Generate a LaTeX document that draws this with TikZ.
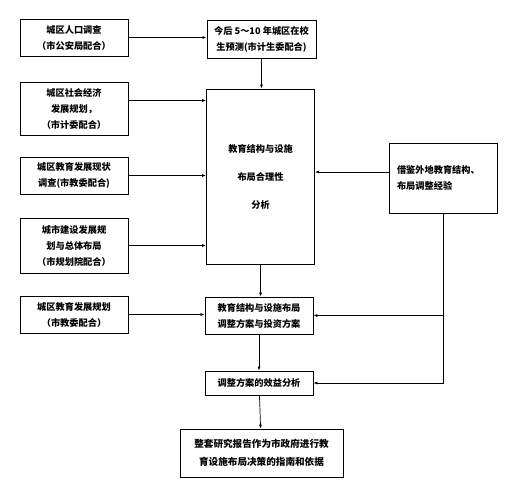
\documentclass[tikz,border=0pt]{standalone}
\usepackage{fontspec}
\setmainfont{Noto Sans CJK SC}
\usepackage{tikz}
\usetikzlibrary{arrows.meta, positioning, calc}

\begin{document}
\begin{tikzpicture}[
    x=1pt, y=-1pt,
    infoBox/.style={
        draw, line width=0.8pt, minimum width=108pt, align=center,
        inner sep=2pt, font=\fontsize{9.2}{16}\selectfont\bfseries
    },
    flowArrow/.style={draw, line width=0.7pt, -{Latex[length=4pt,width=3pt]}},
]
    \useasboundingbox (0,0) rectangle (515,499);

    % input boxes on the left
    \node[infoBox, minimum height=37pt] (popSurvey) at (74,37.5)
        {城区人口调查\\（市公安局配合）};
    \node[infoBox, minimum height=53pt] (econPlan) at (74,108.5)
        {城区社会经济\\发展规划，\\（市计委配合）};
    \node[infoBox, minimum height=37pt] (eduStatus) at (74,175.5)
        {城区教育发展现状\\调查(市教委配合)};
    \node[infoBox, minimum height=55pt] (cityPlan) at (74,245.5)
        {城市建设发展规\\划与总体布局\\（市规划院配合）};
    \node[infoBox, minimum height=37pt] (eduPlan) at (74,314.5)
        {城区教育发展规划\\（市教委配合）};

    % main column
    \node[infoBox, minimum width=109pt, minimum height=38pt] (forecast) at (261.5,39)
        {今后 5～10 年城区在校\\生预测(市计生委配合)};
    \node[infoBox, minimum height=175pt,
          font=\fontsize{9.2}{28}\selectfont\bfseries] (analysis) at (260.5,176.5)
        {教育结构与设施\\布局合理性\\分析};
    \node[infoBox, minimum height=37pt] (adjPlan) at (259,315.5)
        {教育结构与设施布局\\调整方案与投资方案};
    \node[infoBox, minimum height=24pt] (benefit) at (259,383)
        {调整方案的效益分析};
    \node[infoBox, minimum width=163pt, minimum height=48pt,
          font=\fontsize{9.6}{18}\selectfont\bfseries] (report) at (261.5,453)
        {整套研究报告作为市政府进行教\\育设施布局决策的指南和依据};

    % experience box on the right
    \node[infoBox, minimum height=70pt, align=left, text width=92pt] (experience) at (443,178)
        {借鉴外地教育结构、\\布局调整经验};

    % connectors
    \draw[flowArrow] (popSurvey.east) -- (popSurvey.east -| forecast.west);
    \draw[flowArrow] ([yshift=8pt]econPlan.east) -- ([yshift=8pt]econPlan.east -| analysis.west);
    \draw[flowArrow] (eduStatus.east) -- (eduStatus.east -| analysis.west);
    \draw[flowArrow] (cityPlan.east) -- (cityPlan.east -| analysis.west);
    \draw[flowArrow] (eduPlan.east) -- (eduPlan.east -| adjPlan.west);
    \draw[flowArrow] ([yshift=6pt]experience.west) -- ([yshift=6pt]experience.west -| analysis.east);
    \draw[flowArrow] (forecast.south) -- (forecast.south |- analysis.north);
    \draw[flowArrow] (analysis.south) -- (analysis.south |- adjPlan.north);
    \draw[flowArrow] (adjPlan) -- (benefit);
    \draw[flowArrow] (benefit) -- (report);
    \draw[flowArrow] (experience.south) |- (benefit.east);
    \draw[flowArrow] (experience.south |- adjPlan.east) -- (adjPlan.east);
\end{tikzpicture}
\end{document}
